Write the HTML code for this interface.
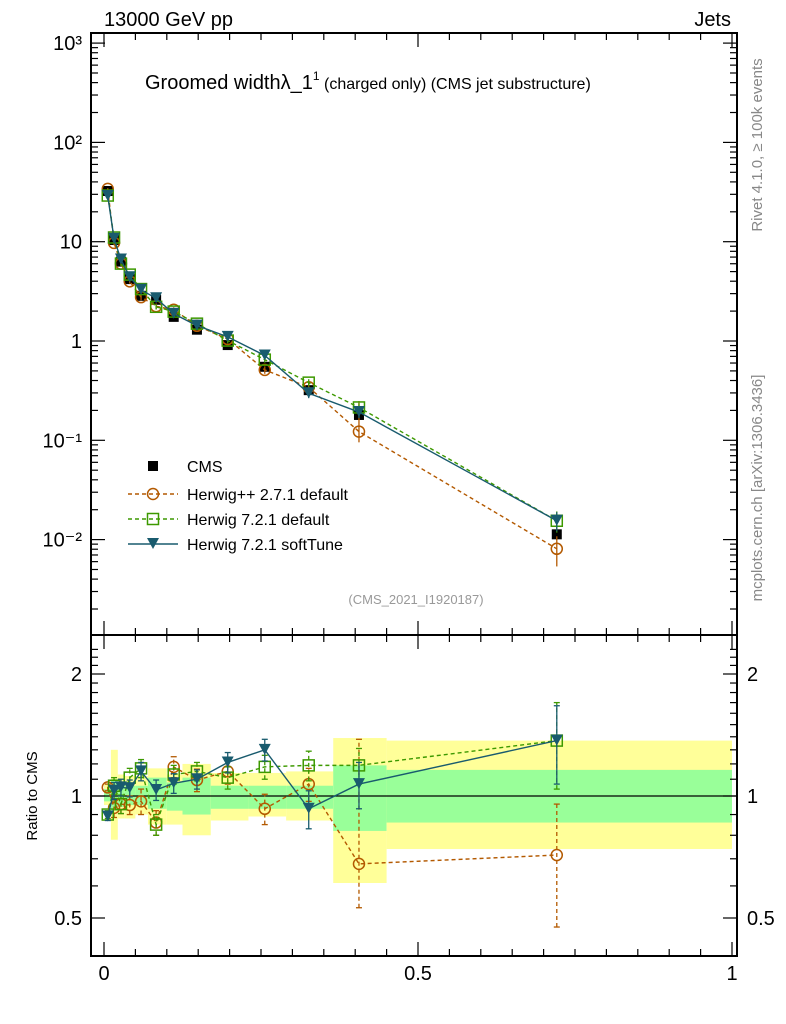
<!DOCTYPE html>
<html><head><meta charset="utf-8"><style>
body{margin:0;background:#fff;}
svg{display:block;font-family:"Liberation Sans",sans-serif;}
</style></head><body>
<svg id="c" width="786" height="1024" xmlns="http://www.w3.org/2000/svg"></svg>
<script>
const binEdges=[0,0.011,0.022,0.033,0.05,0.07,0.1,0.125,0.17,0.23,0.29,0.365,0.45,1.0];
const xPts=[0.006,0.016,0.027,0.041,0.059,0.083,0.111,0.148,0.197,0.256,0.326,0.406,0.721];
const cmsVals=[32.4,10.4,6.3,4.2,2.85,2.6,1.75,1.3,0.91,0.55,0.32,0.18,0.0113];
const cmsErr=[0.03,0.05,0.05,0.05,0.05,0.05,0.05,0.05,0.06,0.06,0.08,0.1,0.12];
const hppRatio=[1.05,0.935,0.955,0.95,0.97,0.86,1.18,1.095,1.15,0.93,1.07,0.68,0.715];
const hppErrDown=[0.02,0.05,0.05,0.05,0.07,0.06,0.07,0.07,0.08,0.08,0.1,0.15,0.24];
const hppErrUp=[0.02,0.05,0.05,0.05,0.07,0.06,0.07,0.07,0.08,0.08,0.1,0.7,0.24];
const h72Ratio=[0.9,1.06,0.955,1.11,1.17,0.85,1.13,1.15,1.11,1.18,1.19,1.19,1.37];
const h72ErrDown=[0.02,0.05,0.05,0.06,0.06,0.05,0.06,0.06,0.07,0.08,0.1,0.12,0.33];
const h72ErrUp=[0.02,0.05,0.05,0.06,0.06,0.05,0.06,0.06,0.07,0.08,0.1,0.12,0.33];
const softRatio=[0.89,1.03,1.05,1.045,1.15,1.035,1.075,1.10,1.21,1.30,0.93,1.07,1.37];
const softErrDown=[0.02,0.05,0.05,0.05,0.06,0.06,0.06,0.06,0.07,0.08,0.1,0.14,0.3];
const softErrUp=[0.02,0.05,0.05,0.05,0.06,0.06,0.06,0.06,0.07,0.08,0.1,0.14,0.3];
const yellowLo=[0.95,0.78,0.88,0.88,0.9,0.85,0.85,0.8,0.87,0.89,0.87,0.61,0.74];
const yellowHi=[1.07,1.3,1.13,1.12,1.12,1.17,1.13,1.2,1.14,1.14,1.15,1.39,1.37];
const greenLo=[0.97,0.92,0.94,0.95,0.95,0.93,0.92,0.9,0.93,0.93,0.93,0.82,0.86];
const greenHi=[1.04,1.1,1.07,1.06,1.06,1.11,1.08,1.11,1.06,1.06,1.06,1.19,1.16];
const mainTickLabels=["10³","10²","10","1","10⁻¹","10⁻²"];
const ratioTicks=[0.5,1,2];
const xTicks=[0,0.5,1];

const NS="http://www.w3.org/2000/svg";
const svg=document.getElementById('c');
function el(t,a,p){const e=document.createElementNS(NS,t);for(const k in a)e.setAttribute(k,a[k]);(p||svg).appendChild(e);return e;}
const L=91,R=737,T=33,MID=635,B=956;
const X=v=>104+v*628;
const Y=v=>341-Math.log10(v)*99.3;
const RY=v=>796-Math.log2(v)*122;

const gb=el('g',{});
for(let i=0;i<yellowLo.length;i++){
 const r=el('rect',{x:X(binEdges[i]),y:RY(yellowHi[i]),width:X(binEdges[i+1])-X(binEdges[i]),height:RY(yellowLo[i])-RY(yellowHi[i]),fill:'#ffff99'},gb);
 
 const g=el('rect',{x:X(binEdges[i]),y:RY(greenHi[i]),width:X(binEdges[i+1])-X(binEdges[i]),height:RY(greenLo[i])-RY(greenHi[i]),fill:'#99ff99'},gb);
 
}
el('line',{x1:L,x2:R,y1:RY(1),y2:RY(1),stroke:'#000','stroke-width':1.3});

const fr=el('g',{fill:'none',stroke:'#000','stroke-width':2});

el('rect',{x:L,y:T,width:R-L,height:MID-T},fr);
el('rect',{x:L,y:MID,width:R-L,height:B-MID},fr);

const ax=el('g',{stroke:'#000','stroke-width':1.2});
for(let d=-3;d<=3;d++){
 for(let m=1;m<10;m++){
  const v=m*Math.pow(10,d);const y=Y(v);
  if(y<T||y>MID)continue;
  const len=m==1?14:7;
  el('line',{x1:L,x2:L+len,y1:y,y2:y},ax);el('line',{x1:R,x2:R-len,y1:y,y2:y},ax);
 }
}
mainTickLabels.forEach((s,i)=>{const t=el('text',{x:82,y:Y(Math.pow(10,3-i))+7,'text-anchor':'end','font-size':20});t.textContent=s;
 });
for(let v=0.4;v<=2.4;v+=0.1){const y=RY(v);if(y<MID+2||y>B)continue;
 const major=ratioTicks.some(t=>Math.abs(t-v)<1e-6);const len=major?14:7;
 el('line',{x1:L,x2:L+len,y1:y,y2:y},ax);el('line',{x1:R,x2:R-len,y1:y,y2:y},ax);}
ratioTicks.forEach(v=>{for(const [x,a] of [[82,'end'],[747,'start']]){const t=el('text',{x:x,y:RY(v)+7,'text-anchor':a,'font-size':20});t.textContent=String(v);
 }});
for(let v=0;v<=1.0001;v+=0.05){const x=X(v);const major=Math.abs(v*2-Math.round(v*2))<1e-6;const len=major?14:7;
 for(const [y0,dir] of [[MID,-1],[T,1],[B,-1],[MID,1]]) el('line',{x1:x,x2:x,y1:y0,y2:y0+dir*len},ax);}
xTicks.forEach(v=>{const t=el('text',{x:X(v),y:980,'text-anchor':'middle','font-size':20});t.textContent=String(v);
 });

function marker(type,x,y,col,g){
 if(type=='sq')el('rect',{x:x-5.5,y:y-5.5,width:11,height:11,fill:'none',stroke:col,'stroke-width':1.5},g);
 else if(type=='circ')el('circle',{cx:x,cy:y,r:5.5,fill:'none',stroke:col,'stroke-width':1.5},g);
 else if(type=='tri')el('path',{d:`M${x-6},${y-6}L${x+6},${y-6}L${x},${y+5}Z`,fill:col},g);
 else el('rect',{x:x-5,y:y-5,width:10,height:10,fill:col},g);
}
function series(name,ratio,errDown,errUp,col,type,dash){
 const g=el('g',{});
 const vals=ratio.map((r,i)=>r*cmsVals[i]);
 const sa={fill:'none',stroke:col,'stroke-width':1.4};if(dash)sa['stroke-dasharray']='4,3';
 el('polyline',Object.assign({points:xPts.map((x,i)=>X(x)+','+Y(vals[i])).join(' ')},sa),g);
 el('polyline',Object.assign({points:xPts.map((x,i)=>X(x)+','+RY(ratio[i])).join(' ')},sa),g);
 xPts.forEach((x,i)=>{
  const ea={stroke:col,'stroke-width':1.3};if(dash)ea['stroke-dasharray']='4,3';
  const lo=ratio[i]-errDown[i],hi=ratio[i]+errUp[i];
  el('line',Object.assign({x1:X(x),x2:X(x),y1:RY(lo),y2:RY(hi)},ea),g);
  el('line',{x1:X(x)-3,x2:X(x)+3,y1:RY(lo),y2:RY(lo),stroke:col,'stroke-width':1.3},g);
  el('line',{x1:X(x)-3,x2:X(x)+3,y1:RY(hi),y2:RY(hi),stroke:col,'stroke-width':1.3},g);
  el('line',{x1:X(x),x2:X(x),y1:Y(vals[i]*(lo/ratio[i])),y2:Y(vals[i]*(hi/ratio[i])),stroke:col,'stroke-width':1.3},g);
  marker(type,X(x),Y(vals[i]),col,g);marker(type,X(x),RY(ratio[i]),col,g);
 });
}
const cg=el('g',{});
xPts.forEach((x,i)=>{el('line',{x1:X(x),x2:X(x),y1:Y(cmsVals[i]*(1-cmsErr[i])),y2:Y(cmsVals[i]*(1+cmsErr[i])),stroke:'#000','stroke-width':1.3},cg);
 marker('cms',X(x),Y(cmsVals[i]),'#000',cg);});
series('herwigpp-271-series',hppRatio,hppErrDown,hppErrUp,'#b35900','circ',true);
series('herwig-721-default-series',h72Ratio,h72ErrDown,h72ErrUp,'#3d9900','sq',true);
series('herwig-721-softtune-series',softRatio,softErrDown,softErrUp,'#195b6e','tri',false);

const lg=el('g',{});
const leg=[['CMS','#000','cms',false,466],['Herwig++ 2.7.1 default','#b35900','circ',true,494],['Herwig 7.2.1 default','#3d9900','sq',true,519],['Herwig 7.2.1 softTune','#195b6e','tri',false,544]];
leg.forEach(([s,c,t,d,y])=>{const e=el('g',{},lg);
 if(t!='cms'){const a={x1:128,x2:178,y1:y,y2:y,stroke:c,'stroke-width':1.4};if(d)a['stroke-dasharray']='4,3';el('line',a,e);}
 marker(t,153,y,c,e);const tx=el('text',{x:187,y:y+6,'font-size':16},e);tx.textContent=s;});

function txt(s,a,name){const t=el('text',a);t.textContent=s;return t;}
txt('13000 GeV pp',{x:104,y:26,'font-size':20},'energy-label');
txt('Jets',{x:731,y:26,'font-size':20,'text-anchor':'end'},'process-label');
const tt=txt('',{x:145,y:89,'font-size':20},'plot-title');
tt.innerHTML='Groomed width\u03bb_1<tspan dy="-9" font-size="12">1</tspan><tspan dy="9" font-size="16"> (charged only) (CMS jet substructure)</tspan>';
txt('(CMS_2021_I1920187)',{x:416,y:604,'font-size':13,fill:'#999','text-anchor':'middle'},'analysis-id');
txt('Ratio to CMS',{x:0,y:0,'font-size':15,transform:'translate(37,796) rotate(-90)','text-anchor':'middle'},'ratio-y-title');
txt('Rivet 4.1.0, \u2265 100k events',{x:0,y:0,'font-size':15,fill:'#888',transform:'translate(762,145) rotate(-90)','text-anchor':'middle'},'rivet-label');
txt('mcplots.cern.ch [arXiv:1306.3436]',{x:0,y:0,'font-size':15,fill:'#888',transform:'translate(762,488) rotate(-90)','text-anchor':'middle'},'mcplots-label');
</script>
</body></html>
